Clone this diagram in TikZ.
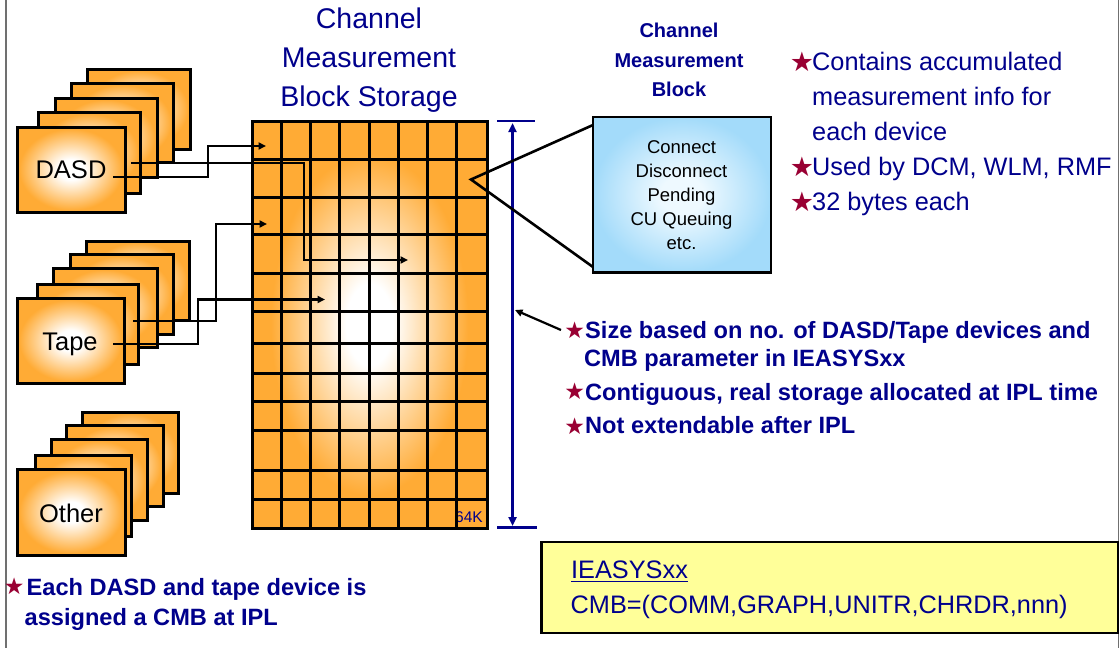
\documentclass[tikz,border=0pt]{standalone}
\usepackage{fontspec}
\setmainfont{Liberation Sans}
\newfontfamily\symfont{DejaVu Sans}
\usetikzlibrary{arrows.meta}
\definecolor{cmborange}{HTML}{FFAB35}
\definecolor{navytxt}{HTML}{00008C}
\definecolor{starred}{HTML}{990033}
\definecolor{boxblueout}{HTML}{A3DBFA}
\definecolor{boxbluein}{HTML}{EEF9FF}
\definecolor{noteyellow}{HTML}{FFFF99}
\definecolor{framegray}{HTML}{707070}
\pgfdeclareradialshading{orangeglow}{\pgfpointorigin}{color(0bp)=(white); color(5bp)=(white); color(21bp)=(cmborange); color(50bp)=(cmborange)}
\pgfdeclareradialshading{cardglow}{\pgfpointorigin}{color(0bp)=(white); color(6bp)=(white); color(24bp)=(cmborange); color(50bp)=(cmborange)}
\pgfdeclareradialshading{blueglow}{\pgfpointorigin}{color(0bp)=(boxbluein); color(6bp)=(boxbluein); color(25bp)=(boxblueout); color(50bp)=(boxblueout)}
\begin{document}
\begin{tikzpicture}[x=1pt,y=-1pt,
  card/.style={draw=black, line width=3pt, shading=cardglow, inner sep=0pt, outer sep=0pt, anchor=north west},
  devlabel/.style={anchor=base, inner sep=0pt, font=\fontsize{25.5}{30}\selectfont, text=black},
  gridline/.style={draw=black, line width=3pt},
  conn/.style={draw=black, line width=2.4pt, -{Triangle[length=7.5pt,width=7pt]}},
  calloutline/.style={draw=black, line width=2.6pt},
  dimline/.style={draw=navytxt, line width=2.6pt},
  titletxt/.style={anchor=base, inner sep=0pt, text=navytxt, font=\fontsize{28.5}{34}\selectfont},
  cmbtitle/.style={anchor=base, inner sep=0pt, text=navytxt, font=\bfseries\fontsize{20}{24}\selectfont},
  cmbtxt/.style={anchor=base, inner sep=0pt, text=black, font=\fontsize{18.5}{22}\selectfont},
  bigbullet/.style={anchor=base west, inner sep=0pt, text=navytxt, font=\fontsize{25.3}{30}\selectfont},
  boldbullet/.style={anchor=base west, inner sep=0pt, text=navytxt, font=\bfseries\fontsize{23.6}{28}\selectfont},
  bigstar/.style={inner sep=0pt, text=starred, font=\symfont\fontsize{27}{27}\selectfont},
  smallstar/.style={inner sep=0pt, text=starred, font=\symfont\fontsize{23}{23}\selectfont},
  parmtxt/.style={anchor=base west, inner sep=0pt, text=navytxt, font=\fontsize{25.3}{30}\selectfont},
  frameline/.style={draw=framegray, line width=1.6pt}]
\useasboundingbox (0,0) rectangle (1120,648);
\fill[white] (0,0) rectangle (1120,648);

% page frame (left and right rules)
\draw[frameline] (6,0) -- (6,648);
\draw[frameline] (1118.5,0) -- (1118.5,648);

% ---------- device stacks ----------
\node[card, minimum width=103pt, minimum height=80pt] (d5) at (87,69) {};
\node[card, minimum width=102pt, minimum height=79pt] (d4) at (71,83) {};
\node[card, minimum width=102pt, minimum height=79pt] (d3) at (55,98) {};
\node[card, minimum width=102pt, minimum height=81pt] (d2) at (38,112) {};
\node[card, minimum width=108pt, minimum height=85pt] (d1) at (17,127) {};
\node[devlabel] (dasdlbl) at (71,178.3) {DASD};

\node[card, minimum width=103pt, minimum height=79pt] (t5) at (86,241) {};
\node[card, minimum width=103pt, minimum height=80pt] (t4) at (70,254) {};
\node[card, minimum width=104pt, minimum height=79pt] (t3) at (53,268) {};
\node[card, minimum width=101pt, minimum height=80pt] (t2) at (37,284) {};
\node[card, minimum width=107pt, minimum height=85pt] (t1) at (17,298) {};
\node[devlabel] (tapelbl) at (70,350) {Tape};

\node[card, minimum width=96pt, minimum height=81pt] (o5) at (82,412) {};
\node[card, minimum width=97pt, minimum height=81pt] (o4) at (66,425) {};
\node[card, minimum width=96pt, minimum height=81pt] (o3) at (51,439) {};
\node[card, minimum width=96pt, minimum height=81pt] (o2) at (35,455) {};
\node[card, minimum width=108pt, minimum height=86pt] (o1) at (17,469) {};
\node[devlabel] (otherlbl) at (71,522.7) {Other};

% ---------- storage grid ----------
\node[titletxt] (st1) at (369,28) {Channel};
\node[titletxt] (st2) at (369,67) {Measurement};
\node[titletxt] (st3) at (369,106) {Block Storage};

\node[shading=orangeglow, inner sep=0pt, outer sep=0pt, anchor=north west,
      minimum width=235pt, minimum height=407pt] (grid) at (252,121) {};
\node[anchor=base east, inner sep=0pt, text=navytxt, font=\fontsize{15.5}{16}\selectfont] (k64) at (483,522.7) {64K};
\foreach \gy in {159.3,197.3,234,273.3,311,343.3,373.3,401.7,430.7,470,499.3}
  \draw[gridline] (252,\gy) -- (487,\gy);
\foreach \gx in {281.7,310.7,339.3,369,398,427.3,456}
  \draw[gridline] (\gx,121) -- (\gx,528);
\draw[gridline] (grid.north west) rectangle (grid.south east);

% ---------- connectors from devices ----------
\coordinate (a1s) at (113,177);   \coordinate (a1e) at (266,146);
\coordinate (a2s) at (131,163);   \coordinate (a2e) at (408,260);
\coordinate (a3s) at (133,321);   \coordinate (a3e) at (267,224);
\coordinate (a4s) at (113,344);   \coordinate (a4e) at (325,299.5);
\draw[conn] (a1s) -- (208,177) |- (a1e);
\draw[conn] (a2s) -- (304,163) |- (a2e);
\draw[conn] (a3s) -- (216,321) |- (a3e);
\draw[conn] (a4s) -- (198,344) |- (a4e);

% ---------- dimension line ----------
\coordinate (dimtop) at (512.5,123);
\coordinate (dimbot) at (512.5,526);
\draw[dimline] (497,121) -- (535,121);
\draw[dimline] (497,527.5) -- (537,527.5);
\draw[dimline, {Triangle[length=9pt,width=8pt]}-{Triangle[length=9pt,width=8pt]}] (dimtop) -- (dimbot);

% ---------- channel measurement block ----------
\node[cmbtitle] (cb1) at (679,37.5) {Channel};
\node[cmbtitle] (cb2) at (679,67) {Measurement};
\node[cmbtitle] (cb3) at (679,96.3) {Block};

\node[draw=black, line width=2.8pt, shading=blueglow, inner sep=0pt, outer sep=0pt, anchor=north west,
      minimum width=178pt, minimum height=155.5pt] (cmb) at (593,117) {};
\node[cmbtxt] (c1) at (681.5,153.5) {Connect};
\node[cmbtxt] (c2) at (681.5,177.5) {Disconnect};
\node[cmbtxt] (c3) at (681.5,201.5) {Pending};
\node[cmbtxt] (c4) at (681.5,225.5) {CU Queuing};
\node[cmbtxt] (c5) at (681.5,249.5) {etc.};

\coordinate (apex) at (471,179.5);
\coordinate (cmbtop) at (593,125);
\coordinate (cmbbot) at (593,267);
\draw[calloutline] (cmbtop) -- (apex) -- (cmbbot);

% ---------- right bullets ----------
\node[bigstar] (rs1) at (802,61.5) {★};
\node[bigbullet] (r1) at (812,70) {Contains accumulated};
\node[bigbullet] (r2) at (812,105) {measurement info for};
\node[bigbullet] (r3) at (812,140) {each device};
\node[bigstar] (rs2) at (802,166.5) {★};
\node[bigbullet] (r4) at (812,175) {Used by DCM, WLM, RMF};
\node[bigstar] (rs3) at (802,202) {★};
\node[bigbullet] (r5) at (812,210.5) {32 bytes each};

% ---------- middle bullets ----------
\node[smallstar] (ms1) at (574.6,330) {★};
\node[boldbullet] (m1) at (585,338.3) {Size based on no. of DASD/Tape devices and};
\node[boldbullet] (m2) at (584,366) {CMB parameter in IEASYSxx};
\node[smallstar] (ms2) at (574.6,391.7) {★};
\node[boldbullet] (m3) at (585,400) {Contiguous, real storage allocated at IPL time};
\node[smallstar] (ms3) at (574.6,426) {★};
\node[boldbullet] (m4) at (585,433.3) {Not extendable after IPL};

\coordinate (sizeptr) at (561,330);
\coordinate (dimhit) at (515,310);
\draw[conn, line width=2.2pt] (sizeptr) -- (dimhit);

% ---------- bottom-left bullet ----------
\node[smallstar] (bs1) at (14.3,586.7) {★};
\node[boldbullet] (b1) at (26.5,595) {Each DASD and tape device is};
\node[boldbullet] (b2) at (24.5,625) {assigned a CMB at IPL};

% ---------- IEASYSxx parameter box ----------
\node[draw=black, line width=2.8pt, fill=noteyellow, inner sep=0pt, outer sep=0pt, anchor=north west,
      minimum width=576.5pt, minimum height=91pt] (parmbox) at (541.5,542) {};
\node[parmtxt] (p1) at (571,578.3) {IEASYSxx};
\draw[draw=navytxt, line width=1.2pt] ([yshift=-3.4pt]p1.base west) -- ([yshift=-3.4pt]p1.base east);
\node[parmtxt] (p2) at (570.5,613.3) {CMB=(COMM,GRAPH,UNITR,CHRDR,nnn)};
\end{tikzpicture}
\end{document}
